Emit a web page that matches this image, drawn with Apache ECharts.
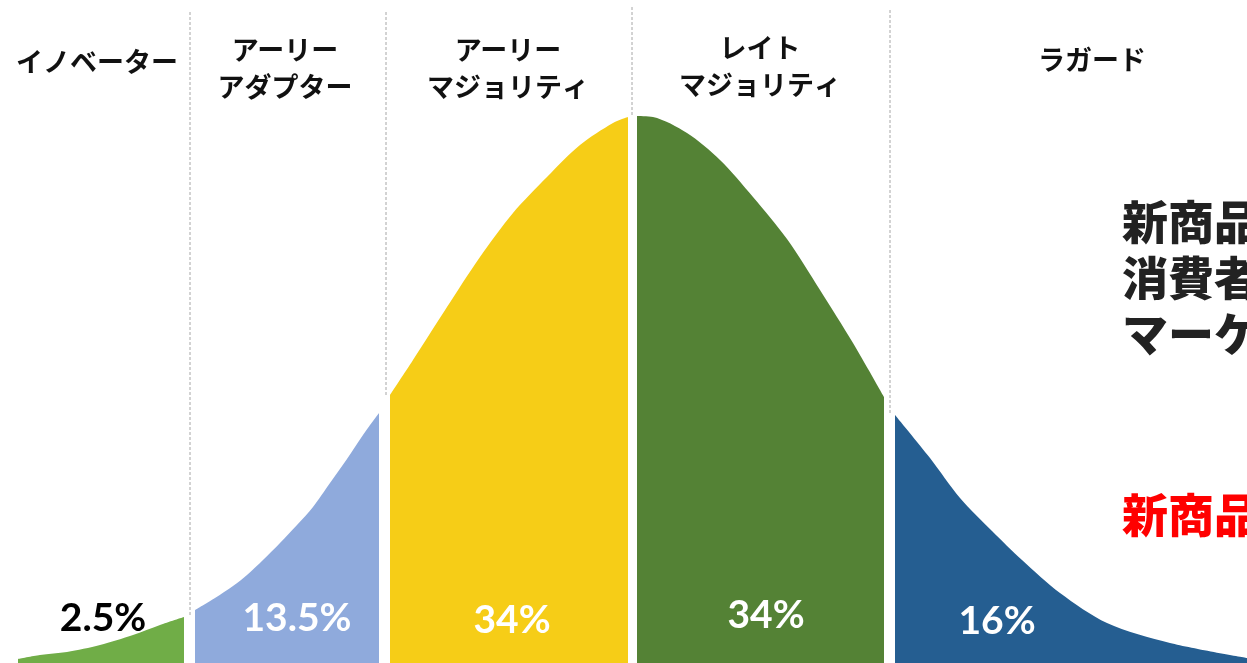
<!DOCTYPE html>
<html>
<head>
<meta charset="utf-8">
<script src="https://cdn.jsdelivr.net/npm/echarts@6/dist/echarts.min.js"></script>
<style>
html,body{margin:0;padding:0;background:#fff;}
#chart{width:1247px;height:663px;}
</style>
</head>
<body>
<div id="chart"></div>
<script>
// Segment names (top labels) and shares (bottom labels)
const segmentNames = ['イノベーター', 'アーリー\nアダプター', 'アーリー\nマジョリティ', 'レイト\nマジョリティ', 'ラガード'];
const segmentShares = ['2.5%', '13.5%', '34%', '34%', '16%'];
const segmentColors = ['#70AD47', '#8FAADC', '#F6CD17', '#548235', '#255E91'];
const shareColors = ['#000000', '#ffffff', '#ffffff', '#ffffff', '#ffffff'];

// Curve samples per segment: [x position, curve height]
const innovators = [[18, 4], [40, 8], [67, 11], [100, 18], [133, 28], [160, 38], [184, 46]];
const earlyAdopters = [[195, 53], [215, 65], [233, 77], [247, 88], [263, 103], [280, 120], [297, 138], [313, 156], [330, 180], [347, 204], [363, 228], [379, 250]];
const earlyMajority = [[390, 268], [413, 303], [447, 356], [480, 406], [513, 450], [547, 486], [580, 518], [613, 540], [628, 546]];
const lateMajority = [[637, 547], [653, 546], [687, 530], [720, 503], [753, 466], [787, 424], [820, 373], [853, 320], [884, 266]];
const laggards = [[895, 248], [930, 205], [960, 165], [992, 132], [1022, 103], [1060, 70], [1107, 40], [1170, 20], [1247, 5]];

// Dashed dividers: x position, bottom height, top height
const dividerX = [190, 386, 632, 890];
const dividerBottom = [48, 268, 548, 250];
const dividerTop = [653, 653, 658, 653];

// Label anchor positions (x, height)
const nameX = [97, 285, 508, 760, 1092];
const nameY = [601, 595, 595, 597, 603];
const shareX = [103, 297, 512, 766, 997];
const shareY = [45, 45, 43, 48, 42];

const chart = echarts.init(document.getElementById('chart'));

const segments = [innovators, earlyAdopters, earlyMajority, lateMajority, laggards];
const series = [];
segments.forEach((seg, i) => {
  series.push({
    type: 'line',
    data: seg,
    smooth: 0.3,
    symbol: 'none',
    lineStyle: { width: 0 },
    areaStyle: { color: segmentColors[i], opacity: 1 },
    silent: true,
    z: 2
  });
});
dividerX.forEach((x, i) => {
  series.push({
    type: 'line',
    data: [[x, dividerBottom[i]], [x, dividerTop[i]]],
    symbol: 'none',
    lineStyle: { color: '#a6a6a6', width: 1, type: [3, 2] },
    silent: true,
    z: 1
  });
});
series.push({
  type: 'scatter',
  data: nameX.map((x, i) => ({
    value: [x, nameY[i]],
    label: { formatter: segmentNames[i] }
  })),
  symbolSize: 1,
  itemStyle: { color: 'transparent', opacity: 1 },
  label: {
    show: true,
    position: 'inside',
    color: '#111111',
    fontFamily: 'Noto Sans CJK JP',
    fontWeight: 'bold',
    fontSize: 27,
    lineHeight: 37,
    align: 'center',
    verticalAlign: 'middle'
  },
  silent: true,
  z: 5
});
series.push({
  type: 'scatter',
  data: shareX.map((x, i) => ({
    value: [x, shareY[i]],
    label: { formatter: segmentShares[i], color: shareColors[i] }
  })),
  symbolSize: 1,
  itemStyle: { color: 'transparent', opacity: 1 },
  label: {
    show: true,
    position: 'inside',
    fontFamily: 'Lato',
    fontWeight: 'bold',
    fontSize: 39,
    align: 'center',
    verticalAlign: 'middle'
  },
  silent: true,
  z: 5
});

chart.setOption({
  animation: false,
  backgroundColor: '#ffffff',
  grid: { left: 0, right: 0, top: 0, bottom: 0 },
  xAxis: { type: 'value', min: 0, max: 1247, show: false },
  yAxis: { type: 'value', min: 0, max: 663, show: false },
  series: series,
  graphic: [
    {
      type: 'text',
      left: 1122,
      top: 194,
      style: {
        text: '新商品\n消費者\nマーケ',
        fill: '#222222',
        font: '900 46px "Noto Sans CJK JP"',
        lineHeight: 56
      }
    },
    {
      type: 'text',
      left: 1122,
      top: 487,
      style: {
        text: '新商品',
        fill: '#ff0000',
        font: '900 46px "Noto Sans CJK JP"',
        lineHeight: 56
      }
    }
  ]
});
</script>
</body>
</html>
